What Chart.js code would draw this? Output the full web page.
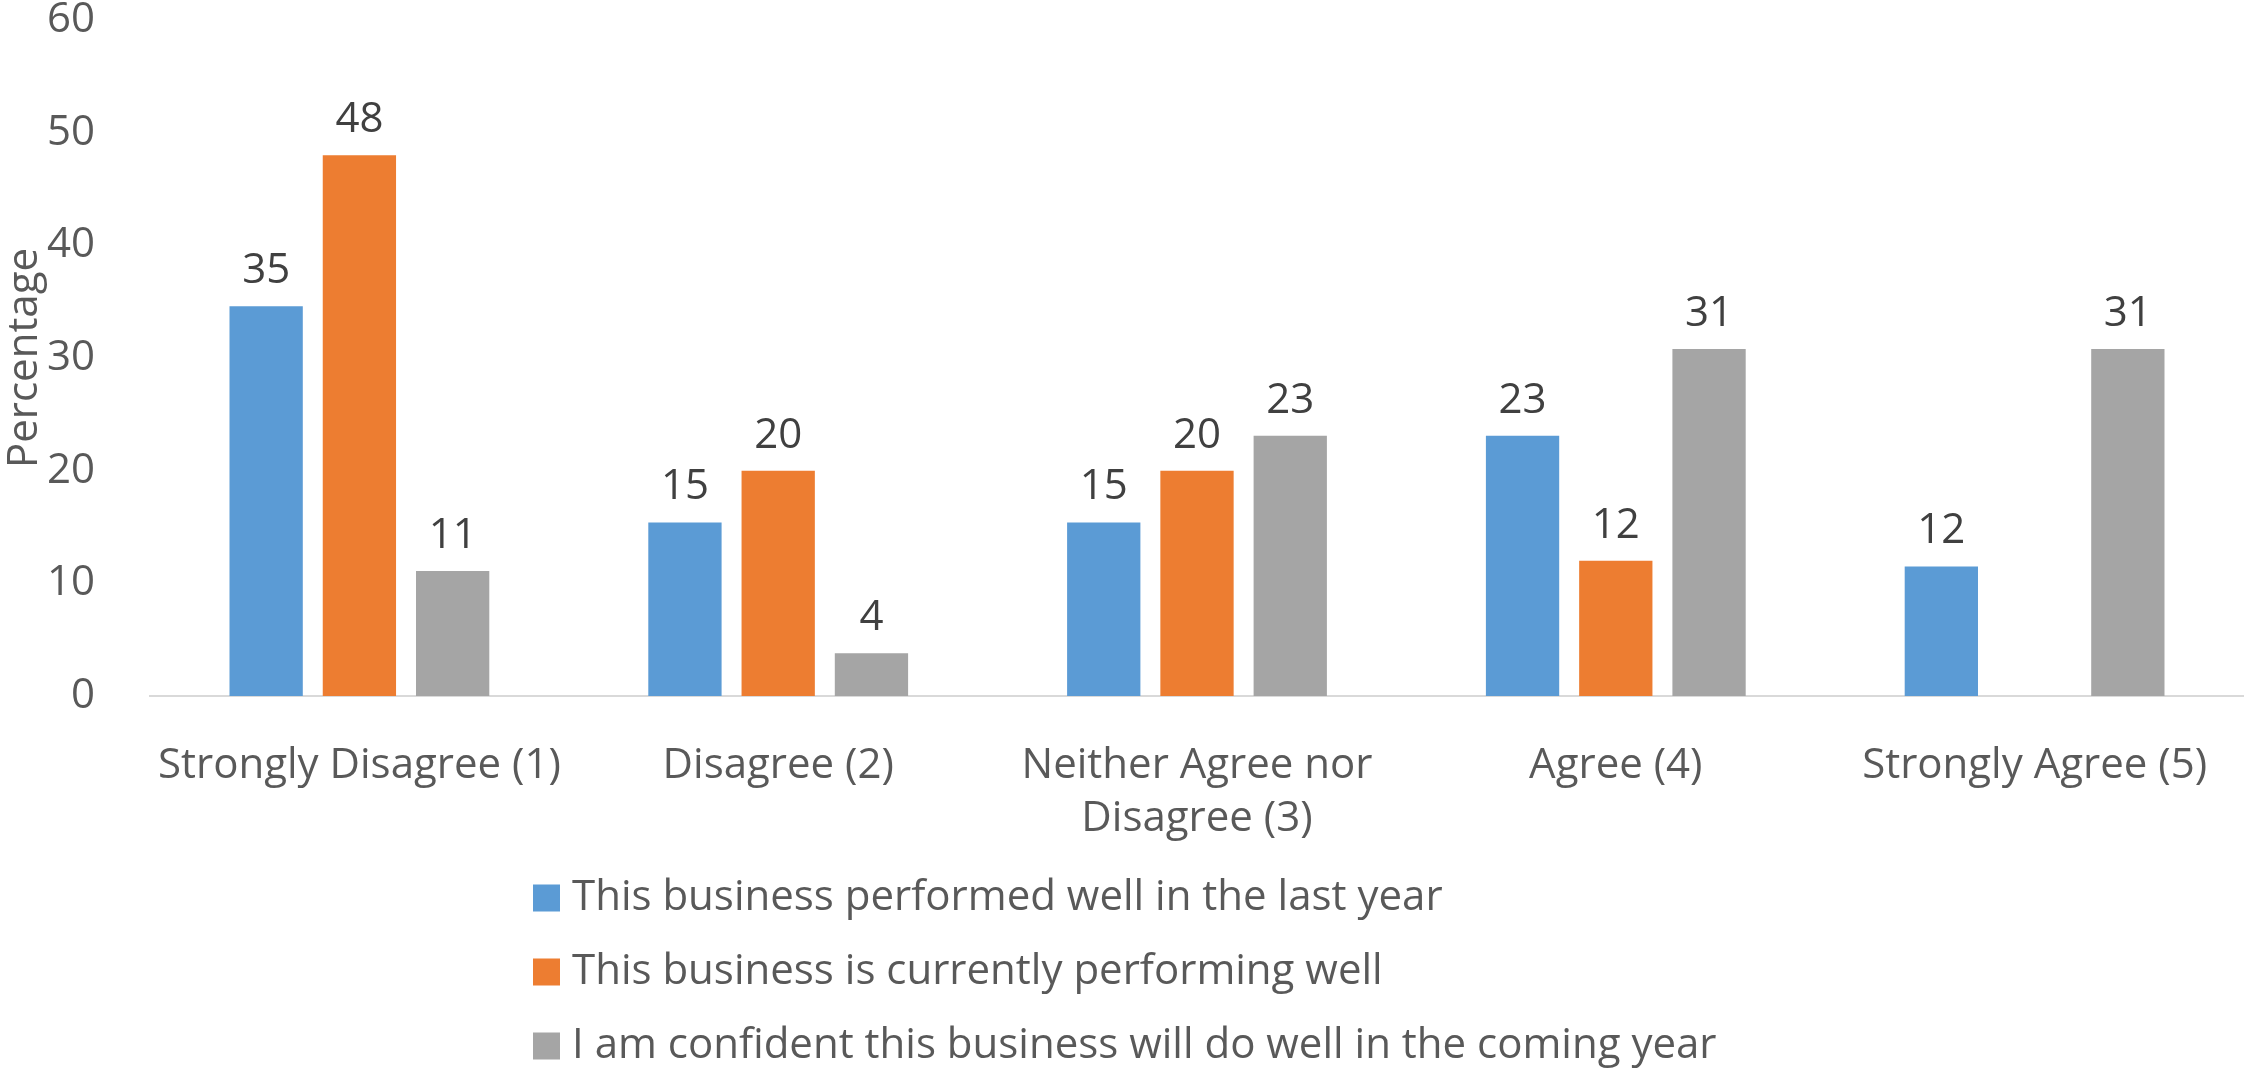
<!DOCTYPE html>
<html>
<head>
<meta charset="utf-8">
<script src="https://cdn.jsdelivr.net/npm/chart.js@4.4.1/dist/chart.umd.min.js"></script>
<style>
  body { margin: 0; background: #fff; }
  #wrap { width: 2244px; height: 1070px; }
</style>
</head>
<body>
<div id="wrap"><canvas id="barChart" width="2244" height="1070"></canvas></div>
<script>
var categories = [
  "Strongly Disagree (1)",
  "Disagree (2)",
  ["Neither Agree nor", "Disagree (3)"],
  "Agree (4)",
  "Strongly Agree (5)"
];
var seriesNames = [
  "This business performed well in the last year",
  "This business is currently performing well",
  "I am confident this business will do well in the coming year"
];
var lastYear = [34.6, 15.4, 15.4, 23.1, 11.5];
var currently = [48, 20, 20, 12, null];
var comingYear = [11.1, 3.8, 23.1, 30.8, 30.8];
var yTicks = [0, 10, 20, 30, 40, 50, 60];

var colors = ["#5B9BD5", "#ED7D31", "#A5A5A5"];
var fontFamily = "'Open Sans', sans-serif";

// numbers above the bars
var valueLabels = {
  id: "valueLabels",
  afterDatasetsDraw: function(chart) {
    var ctx = chart.ctx;
    ctx.save();
    ctx.font = "42px " + fontFamily;
    ctx.fillStyle = "#404040";
    ctx.textAlign = "center";
    ctx.textBaseline = "alphabetic";
    chart.data.datasets.forEach(function(ds, i) {
      var meta = chart.getDatasetMeta(i);
      meta.data.forEach(function(bar, j) {
        var v = ds.data[j];
        if (v === null || v === undefined) return;
        ctx.fillText(Math.round(v), bar.x, bar.y - 23);
      });
    });
    ctx.restore();
  }
};

// legend stacked in one column under the axis
var columnLegend = {
  id: "columnLegend",
  afterDraw: function(chart) {
    var ctx = chart.ctx;
    var x = 533, y = 898, step = 74;
    ctx.save();
    ctx.font = "42px " + fontFamily;
    ctx.textBaseline = "middle";
    chart.data.datasets.forEach(function(ds, i) {
      var cy = y + i * step;
      ctx.fillStyle = ds.backgroundColor;
      ctx.fillRect(x, cy - 13.5, 27, 27);
      ctx.fillStyle = "#595959";
      ctx.fillText(ds.label, x + 39, cy);
    });
    ctx.restore();
  }
};

function drawBarChart() {
  var ctx = document.getElementById("barChart").getContext("2d");
  var barChart = new Chart(ctx, {
    type: "bar",
    data: {
      labels: categories,
      datasets: [
        { label: seriesNames[0], data: lastYear, backgroundColor: colors[0] },
        { label: seriesNames[1], data: currently, backgroundColor: colors[1] },
        { label: seriesNames[2], data: comingYear, backgroundColor: colors[2] }
      ]
    },
    options: {
      responsive: false,
      animation: false,
      layout: { padding: { top: 20, right: 0, left: 0, bottom: 0 } },
      datasets: {
        bar: { barPercentage: 0.786, categoryPercentage: 0.668 }
      },
      plugins: {
        legend: { display: false },
        tooltip: { enabled: false }
      },
      scales: {
        x: {
          grid: { display: false },
          border: { display: true, color: "#D9D9D9", width: 2 },
          ticks: {
            color: "#595959",
            padding: 36,
            maxRotation: 0,
            autoSkip: false,
            font: { family: fontFamily, size: 42, lineHeight: 1.262 }
          },
          afterFit: function(scale) { scale.height = 374; }
        },
        y: {
          min: 0,
          max: 60,
          grid: { display: false },
          border: { display: false },
          afterBuildTicks: function(scale) {
            scale.ticks = yTicks.map(function(v) { return { value: v }; });
          },
          ticks: {
            color: "#595959",
            padding: 47,
            font: { family: fontFamily, size: 42, lineHeight: 0.9 }
          },
          title: {
            display: true,
            text: "Percentage",
            color: "#595959",
            padding: 0,
            font: { family: fontFamily, size: 42, lineHeight: 1.2 }
          },
          afterFit: function(scale) {
            scale.width = 150;
            scale.paddingTop = 0;
            scale.paddingBottom = 0;
          }
        }
      }
    },
    plugins: [valueLabels, columnLegend]
  });
}

drawBarChart();
</script>
</body>
</html>
